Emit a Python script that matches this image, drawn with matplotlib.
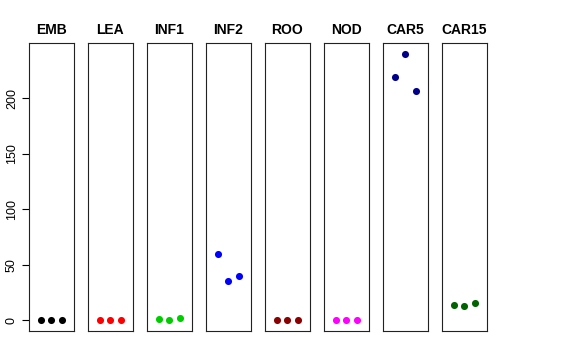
import matplotlib
matplotlib.use("Agg")
from matplotlib import pyplot as plt

plt.rcParams['font.family'] = ['Liberation Sans', 'DejaVu Sans']

groups = ['EMB', 'LEA', 'INF1', 'INF2', 'ROO', 'NOD', 'CAR5', 'CAR15']
colors = ['black', 'red', '#00CD00', 'blue', '#8B0000', 'magenta', '#00008B', '#006400']
values = [
    [0.0, 0.0, 0.0],
    [0.2, 0.6, 0.1],
    [1.3, 0.6, 2.4],
    [60.0, 35.0, 40.3],
    [0.0, 0.3, 0.3],
    [0.0, 0.0, 0.0],
    [219.0, 240.0, 206.0],
    [13.8, 13.2, 16.0],
]
reps = [1, 2, 3]
yticks = [0, 50, 100, 150, 200]

W, H = 576, 360
fig = plt.figure(figsize=(W / 100, H / 100), dpi=100)

ymin = min(min(v) for v in values)
ymax = max(max(v) for v in values)
yr = ymax - ymin
ylim = (ymin - 0.04 * yr, ymax + 0.04 * yr)

for i, (name, col, vals) in enumerate(zip(groups, colors, values)):
    left = 29 + 59 * i
    ax = fig.add_axes([left / W, 29 / H, 44.5 / W, 288 / H])
    ax.scatter(reps, vals, s=26, color=col, zorder=3, linewidths=0)
    ax.set_xlim(-0.16, 4.16)
    ax.set_ylim(*ylim)
    ax.set_xticks([])
    ax.set_title(name, fontsize=10, fontweight='bold', pad=6.5)
    for sp in ax.spines.values():
        sp.set_linewidth(0.8)
        sp.set_color('#222222')
    if i == 0:
        ax.set_yticks(yticks)
        ax.tick_params(axis='y', length=5, width=0.8, pad=3,
                       labelsize=9, labelrotation=90)
        for lab in ax.get_yticklabels():
            lab.set_verticalalignment('center')
            lab.set_horizontalalignment('right')
    else:
        ax.set_yticks([])

fig.savefig('out.png', dpi=100)
